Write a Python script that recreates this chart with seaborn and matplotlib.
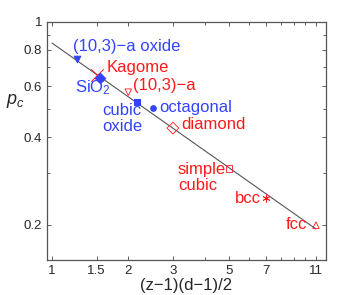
import matplotlib
matplotlib.use('Agg')
import matplotlib.pyplot as plt
import matplotlib.ticker as mticker
import numpy as np
import seaborn as sns

# data points: (z-1)(d-1)/2 vs percolation threshold
names = ['(10,3)−a oxide', 'Kagome', 'SiO2', '(10,3)−a', 'cubic oxide',
         'octagonal', 'diamond', 'simple cubic', 'bcc', 'fcc']
x_vals = [1.25, 1.5, 1.55, 2.0, 2.16, 2.5, 3.0, 5.0, 7.0, 11.0]
pc_vals = [0.745, 0.653, 0.64, 0.572, 0.527, 0.504, 0.43, 0.312, 0.246, 0.199]
groups = ['blue', 'red', 'blue', 'red', 'blue', 'blue', 'red', 'red', 'red', 'red']

# fitted power-law line endpoints
line_x = [1.0, 11.0]
line_y = [0.845, 0.193]

# labels
label_texts = ['(10,3)−a oxide', 'Kagome', 'SiO$_2$', '(10,3)−a', 'cubic\noxide',
               'octagonal', 'diamond', 'simple\ncubic', 'bcc', 'fcc']
label_x = [1.215, 1.65, 1.235, 2.08, 1.58, 2.65, 3.23, 3.14, 6.68, 10.14]
label_y = [0.82, 0.694, 0.5735, 0.602, 0.463, 0.506, 0.441, 0.290, 0.245, 0.1994]
label_ha = ['left', 'left', 'left', 'left', 'left', 'left', 'left', 'left', 'right', 'right']

x_major = [1, 1.5, 2, 3, 5, 7, 11]
x_minor = [4, 6, 8, 9, 10]
y_major = [0.2, 0.4, 0.6, 0.8, 1]
y_minor = [0.3, 0.5, 0.7, 0.9]

BLUE = '#3344ff'
RED = '#ff1a1a'

markers = ['v', 'x', 'D', 'v', 's', 'o', 'D', 's', (6, 2, 0), '^']
sizes = [22, 80, 28, 22, 14, 16, 36, 22, 28, 22]
filled = [True, True, True, False, True, True, False, False, True, False]
widths = [0.8, 0.7, 0.8, 0.6, 0.8, 0.8, 0.6, 0.6, 0.6, 0.6]

sns.set_style('ticks')
plt.rcParams['font.family'] = ['Liberation Sans', 'DejaVu Sans']
plt.rcParams['mathtext.fontset'] = 'custom'
plt.rcParams['mathtext.rm'] = 'Liberation Sans'
plt.rcParams['mathtext.it'] = 'Liberation Sans:italic'

fig = plt.figure(figsize=(3.61, 2.95), dpi=100)
ax = fig.add_axes([0.130, 0.119, 0.773, 0.807])

sns.lineplot(x=line_x, y=line_y, ax=ax, color='#555555', lw=0.8)

for i in range(len(x_vals)):
    col = BLUE if groups[i] == 'blue' else RED
    if filled[i]:
        sns.scatterplot(x=[x_vals[i]], y=[pc_vals[i]], ax=ax, marker=markers[i],
                        s=sizes[i], color=col, edgecolor=col, linewidth=widths[i], zorder=3)
    else:
        sns.scatterplot(x=[x_vals[i]], y=[pc_vals[i]], ax=ax, marker=markers[i],
                        s=sizes[i], facecolor='none', edgecolor=col, linewidth=widths[i], zorder=3)

for t, lx, ly, ha, g in zip(label_texts, label_x, label_y, label_ha, groups):
    col = BLUE if g == 'blue' else RED
    va = 'baseline' if 'SiO' in t else 'center'
    ax.text(lx, ly, t, color=col, fontsize=12, ha=ha, va=va, linespacing=1.05)

ax.set_xscale('log')
ax.set_yscale('log')
ax.set_xlim(0.955, 12.05)
ax.set_ylim(0.151, 1.0)

ax.xaxis.set_major_locator(mticker.FixedLocator(x_major))
ax.xaxis.set_minor_locator(mticker.FixedLocator(x_minor))
ax.xaxis.set_major_formatter(mticker.FixedFormatter([str(v) for v in x_major]))
ax.xaxis.set_minor_formatter(mticker.NullFormatter())
ax.yaxis.set_major_locator(mticker.FixedLocator(y_major))
ax.yaxis.set_minor_locator(mticker.FixedLocator(y_minor))
ax.yaxis.set_major_formatter(mticker.FixedFormatter([str(v) for v in y_major]))
ax.yaxis.set_minor_formatter(mticker.NullFormatter())

ax.tick_params(which='both', direction='in', top=True, right=True,
               labelsize=9.5, color='#444444', width=0.6)
ax.tick_params(which='major', length=3)
ax.tick_params(which='minor', length=2)
for sp in ax.spines.values():
    sp.set_color('#555555')
    sp.set_linewidth(0.9)

ax.set_xlabel('(z−1)(d−1)/2', fontsize=12, labelpad=1)
ax.set_ylabel('$p_c$', fontsize=13, rotation=0)
ax.yaxis.set_label_coords(-0.115, 0.63)

fig.savefig('out.png', dpi=100)
